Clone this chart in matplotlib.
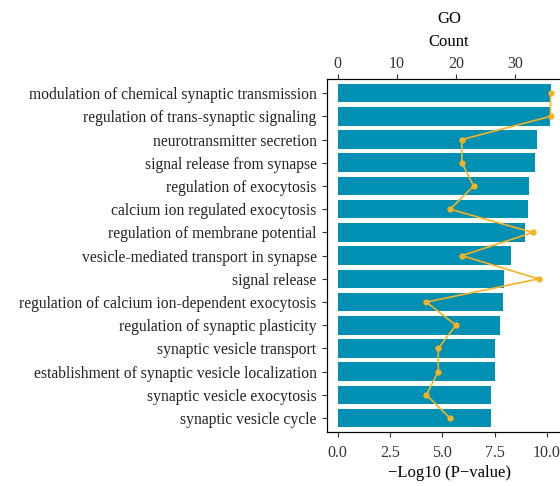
import numpy as np
import matplotlib
matplotlib.use('Agg')
import matplotlib.pyplot as plt

plt.rcParams['font.family'] = ['Liberation Serif', 'DejaVu Serif']

# Termos GO, de cima para baixo
termos = ['modulation of chemical synaptic transmission',
          'regulation of trans-synaptic signaling',
          'neurotransmitter secretion',
          'signal release from synapse',
          'regulation of exocytosis',
          'calcium ion regulated exocytosis',
          'regulation of membrane potential',
          'vesicle-mediated transport in synapse',
          'signal release',
          'regulation of calcium ion-dependent exocytosis',
          'regulation of synaptic plasticity',
          'synaptic vesicle transport',
          'establishment of synaptic vesicle localization',
          'synaptic vesicle exocytosis',
          'synaptic vesicle cycle']

# -Log10(P-value)
log_p = [10.19, 10.16, 9.53, 9.44, 9.15, 9.10, 8.96, 8.28, 7.94, 7.91, 7.77, 7.53, 7.51, 7.33, 7.33]

# Count
contagem = [36, 36, 21, 21, 23, 19, 33, 21, 34, 15, 20, 17, 17, 15, 19]

cor_barra = '#0090B4'
cor_linha = '#F6B222'

fig = plt.figure(figsize=(5.6, 4.86), dpi=100)
ax = fig.add_axes([0.584, 0.111, 0.436, 0.726])

pos = np.arange(1, len(termos) + 1)
ax.barh(pos, log_p, height=0.8, color=cor_barra)
ax.set_ylim(15.6, 0.4)
ax.set_xlim(-0.51, 11.16)
ax.set_yticks(pos)
ax.set_yticklabels(termos, fontsize=11.25, color='#222222')
ax.set_xticks([0, 2.5, 5.0, 7.5, 10.0])
ax.set_xticklabels(['0.0', '2.5', '5.0', '7.5', '10.0'], fontsize=11.5, color='#333333')
ax.set_xlabel('\u2212Log10 (P\u2212value)', fontsize=12, labelpad=3)
ax.tick_params(axis='y', length=3.5, width=0.8, color='#333333', pad=4)
ax.tick_params(axis='x', length=3.5, width=0.8, color='#333333', pad=5.5)
ax.spines['right'].set_visible(False)

# Eixo de cima (Count)
ax2 = ax.twiny()
ax2.plot(contagem, pos, color=cor_linha, lw=1.2, marker='o', ms=3.5)
ax2.set_xlim(-1.81, 39.5)
ax2.set_xticks([0, 10, 20, 30])
ax2.tick_params(labelsize=11.5, labelcolor='#333333', length=3.5, width=0.8, color='#333333', pad=1.5)
ax2.set_xlabel('Count', fontsize=12, labelpad=7.5)
ax2.set_title('GO', fontsize=12, pad=8)
ax2.spines['right'].set_visible(False)

fig.savefig('out.png', dpi=100)
